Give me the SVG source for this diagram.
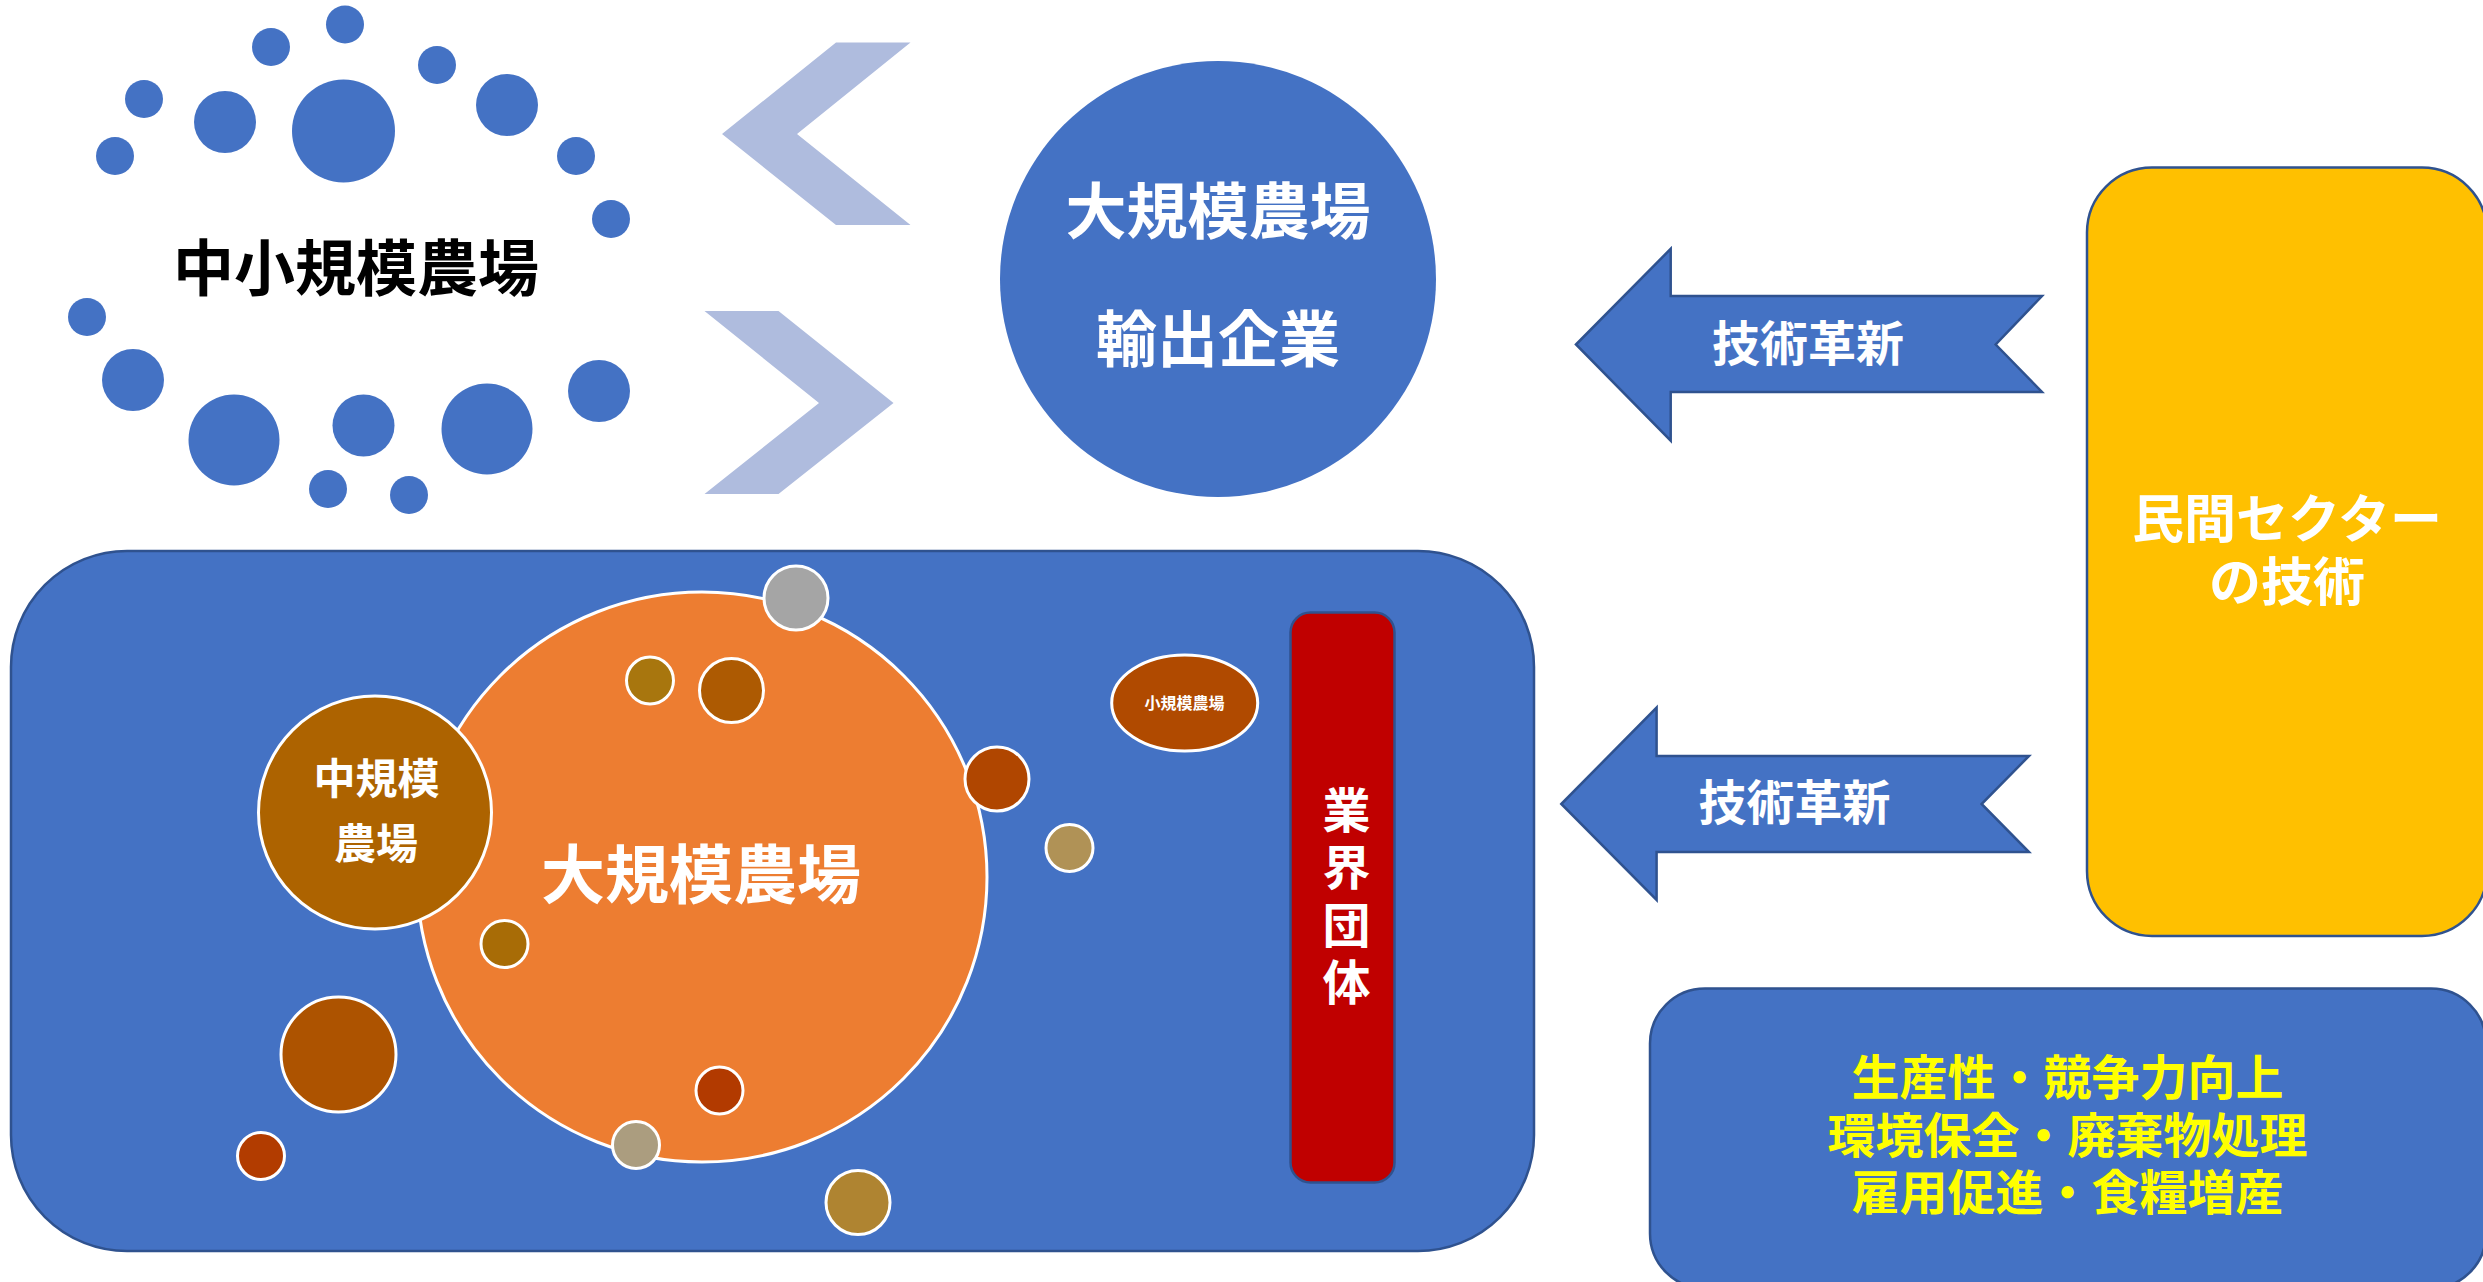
<svg xmlns="http://www.w3.org/2000/svg" width="2483" height="1282" viewBox="0 0 2483 1282">
<style>
text{font-family:"Liberation Sans","Noto Sans CJK JP","Noto Sans CJK SC",sans-serif;font-weight:bold;text-anchor:middle}
.w{fill:#FFFFFF}
.k{fill:#000000}
.y{fill:#FFFF00}
.dot{fill:#4472C4}
.blue{fill:#4472C4;stroke:#2F528F;stroke-width:2.5}
.chev{fill:#AFBCDE}
.sm{stroke:#FFFFFF;stroke-width:3}
.vert{writing-mode:vertical-rl;text-anchor:start;letter-spacing:9.5px}
</style>
<rect width="2483" height="1282" fill="#FFFFFF"/>

<g id="small-medium-farms">
<circle class="dot" cx="345" cy="24.5" r="19"/>
<circle class="dot" cx="271" cy="47" r="19"/>
<circle class="dot" cx="144" cy="99" r="19"/>
<circle class="dot" cx="115" cy="156" r="19"/>
<circle class="dot" cx="225" cy="122" r="31"/>
<circle class="dot" cx="343.5" cy="131" r="51.5"/>
<circle class="dot" cx="437" cy="65" r="19"/>
<circle class="dot" cx="507" cy="105" r="31"/>
<circle class="dot" cx="576" cy="156" r="19"/>
<circle class="dot" cx="611" cy="219" r="19"/>
<circle class="dot" cx="87" cy="317" r="19"/>
<circle class="dot" cx="133" cy="380" r="31"/>
<circle class="dot" cx="234" cy="440" r="45.5"/>
<circle class="dot" cx="363.5" cy="425.5" r="31"/>
<circle class="dot" cx="487" cy="429" r="45.5"/>
<circle class="dot" cx="599" cy="391" r="31"/>
<circle class="dot" cx="328" cy="489" r="19"/>
<circle class="dot" cx="409" cy="495" r="19"/>
<text class="k" x="356" y="291" font-size="61">中小規模農場</text>
</g>

<g id="large-farms-exporters">
<circle cx="1218" cy="279" r="218" fill="#4472C4"/>
<text class="w" x="1218" y="234" font-size="61">大規模農場</text>
<text class="w" x="1218" y="362" font-size="61">輸出企業</text>
</g>

<g id="private-sector">
<rect class="blue" x="2087" y="167.5" width="400" height="768.5" rx="65" ry="65" style="fill:#FFC000"/>
<text class="w" font-size="52"><tspan x="2287" y="538">民間セクター</tspan><tspan x="2287" y="601">の技術</tspan></text>
</g>

<g id="industry-container">
<rect class="blue" x="11" y="551" width="1523" height="700" rx="116" ry="116"/>
</g>

<g id="large-farm">
<circle cx="702" cy="877" r="285" fill="#ED7D31" class="sm"/>
<text class="w" x="701" y="898" font-size="64">大規模農場</text>
</g>

<g id="medium-farm">
<circle cx="375" cy="812.5" r="116.5" fill="#AD6300" class="sm"/>
<text class="w" font-size="42"><tspan x="376.5" y="794">中規模</tspan><tspan x="376" y="859">農場</tspan></text>
</g>

<g id="farm-dots">
<circle class="sm" cx="796" cy="598" r="32" fill="#A5A5A5"/>
<circle class="sm" cx="650" cy="680.5" r="23.5" fill="#A8760E"/>
<circle class="sm" cx="731.5" cy="690.5" r="32" fill="#AD5A02"/>
<circle class="sm" cx="997" cy="779" r="32" fill="#B04600"/>
<circle class="sm" cx="1069.5" cy="848" r="23.5" fill="#B09256"/>
<circle class="sm" cx="504.5" cy="944" r="23.5" fill="#A86C06"/>
<circle class="sm" cx="338.5" cy="1054.5" r="57.5" fill="#AD5300"/>
<circle class="sm" cx="261" cy="1156" r="23.5" fill="#B23C00"/>
<circle class="sm" cx="719.5" cy="1090.5" r="23.5" fill="#B23A00"/>
<circle class="sm" cx="636" cy="1145" r="23.5" fill="#AB9D7F"/>
<circle class="sm" cx="858" cy="1202.5" r="32" fill="#AF8431"/>
</g>

<g id="small-farm">
<ellipse class="sm" cx="1184.7" cy="703" rx="73" ry="48" fill="#B04A00"/>
<text class="w" x="1184.5" y="709" font-size="16">小規模農場</text>
</g>

<g id="industry-association">
<rect x="1290.5" y="612.5" width="104" height="570" rx="20" ry="20" fill="#C00000" stroke="#2F528F" stroke-width="2.5"/>
<text class="w vert" x="1342" y="785.5" font-size="48">業界団体</text>
</g>

<g id="outcomes">
<rect class="blue" x="1650" y="988.5" width="836" height="300" rx="55" ry="55"/>
<text class="y" font-size="48"><tspan x="2067.5" y="1095">生産性・競争力向上</tspan><tspan x="2067.5" y="1153">環境保全・廃棄物処理</tspan><tspan x="2067.5" y="1210">雇用促進・食糧増産</tspan></text>
</g>

<g id="connectors">
<polygon class="chev" points="836,42.5 910.5,42.5 797,134 910.5,225 836,225 722,134"/>
<polygon class="chev" points="704.5,311 778.5,311 893.5,403 778.5,494 704.5,494 819,403"/>
<path class="blue" d="M1576,344.5 L1670.7,248.8 L1670.7,296 L2042,296 L1995.7,344.5 L2042,392 L1670.7,392 L1670.7,440.7 Z"/>
<text class="w" x="1808" y="361" font-size="48">技術革新</text>
<path class="blue" d="M1561.3,804 L1656.6,707.5 L1656.6,756 L2029,756 L1981.6,804 L2029,852 L1656.6,852 L1656.6,900 Z"/>
<text class="w" x="1794.5" y="820" font-size="48">技術革新</text>
</g>
</svg>
